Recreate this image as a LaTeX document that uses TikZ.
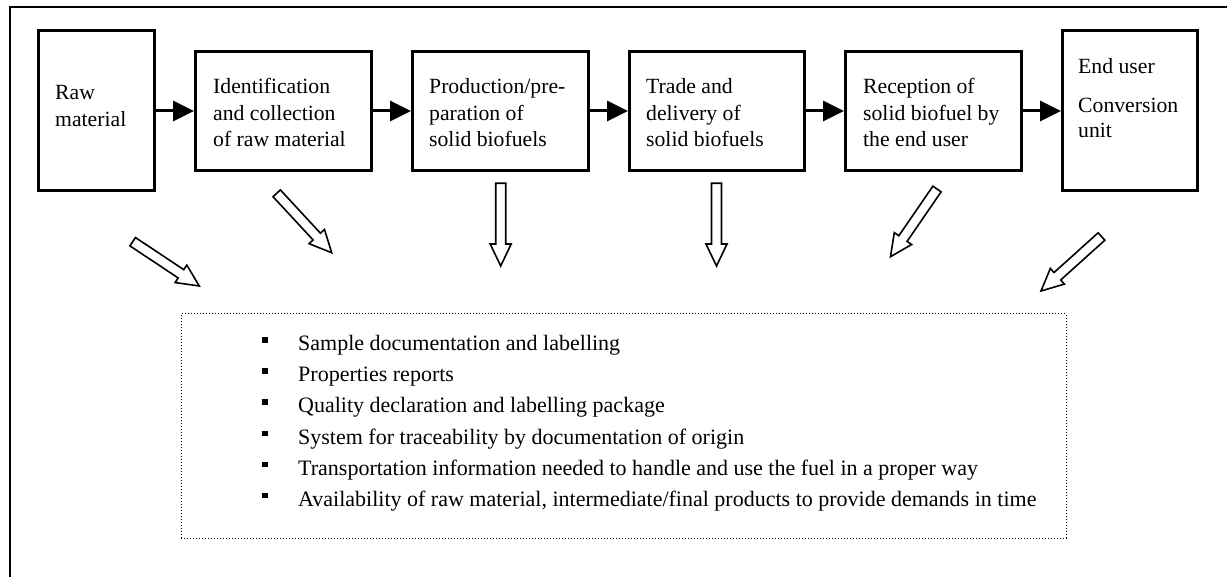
\documentclass[tikz,border=0pt]{standalone}
\usepackage{fontspec}
\setmainfont{Liberation Serif}
\usetikzlibrary{arrows.meta,calc}

\tikzset{
  stagebox/.style={draw, line width=3pt, inner sep=0pt},
  boxtext/.style={inner sep=0pt, align=left, anchor=base west,
    font=\fontsize{21.7}{26.5}\selectfont},
  listtext/.style={inner sep=0pt, anchor=base west,
    font=\fontsize{22}{26}\selectfont},
  flow/.style={line width=3pt, -{Triangle[length=21pt,width=20pt]}},
  hollow/.style={draw, fill=white, line width=1.6pt, line join=miter},
  frame/.style={line width=2.6pt},
  notes/.style={draw, dotted, line width=1pt, inner sep=0pt},
}

% hollow block arrow from tail coordinate #1 to tip coordinate #2
\newcommand\blockarrow[2]{%
  \coordinate (hb) at ($(#2)!22pt!(#1)$);
  \draw[hollow]
    ($(#1)!5pt!90:(#2)$) -- ($(hb)!5pt!-90:(#1)$) -- ($(hb)!10.5pt!-90:(#1)$)
    -- (#2) -- ($(hb)!10.5pt!90:(#1)$) -- ($(hb)!5pt!90:(#1)$)
    -- ($(#1)!5pt!-90:(#2)$) -- cycle;
}

\begin{document}
\begin{tikzpicture}[x=1pt,y=-1pt]
\useasboundingbox (0,0) rectangle (1227,577);

% outer frame
\draw[frame] (10,580) -- (10,7) -- (1230,7);

% process chain
\node[stagebox, minimum width=116pt, minimum height=160pt] (b1) at (96.5,110.5) {};
\node[stagebox, minimum width=176pt, minimum height=119pt] (b2) at (283.5,111) {};
\node[stagebox, minimum width=176pt, minimum height=119pt] (b3) at (500.5,111) {};
\node[stagebox, minimum width=175pt, minimum height=119pt] (b4) at (717,111) {};
\node[stagebox, minimum width=176pt, minimum height=119pt] (b5) at (933.5,111) {};
\node[stagebox, minimum width=135pt, minimum height=160pt] (b6) at (1130,110.5) {};

% the base anchor of these multi-line labels sits on their last line
\node[boxtext] (t1) at (55,127) {Raw\\[0.5pt]material};
\node[boxtext] (t2) at (213,147) {Identification\\and collection\\of raw material};
\node[boxtext] (t3) at (429,147) {Production/pre-\\paration of\\solid biofuels};
\node[boxtext] (t4) at (646,147) {Trade and\\delivery of\\solid biofuels};
\node[boxtext] (t5) at (863,147) {Reception of\\solid biofuel by\\the end user};
\node[boxtext] (t6) at (1078,138) {End user\\[12.5pt]Conversion\\[-1pt]unit};

\draw[flow] (b1.east |- b2.west) -- (b2.west);
\draw[flow] (b2.east) -- (b3.west);
\draw[flow] (b3.east) -- (b4.west);
\draw[flow] (b4.east) -- (b5.west);
\draw[flow] (b5.east) -- (b6.west |- b5.east);

% hollow arrows towards the documentation box
\coordinate (a1s) at (132.7,241.7); \coordinate (a1e) at (199.3,286);
\coordinate (a2s) at (276.7,193.3); \coordinate (a2e) at (331.7,252.7);
\coordinate (a3s) at (500.7,183.3); \coordinate (a3e) at (500.7,266);
\coordinate (a4s) at (716.5,183.3); \coordinate (a4e) at (716.5,266);
\coordinate (a5s) at (937,189);     \coordinate (a5e) at (890.5,256.7);
\coordinate (a6s) at (1101.5,236.5);\coordinate (a6e) at (1041,291);
\blockarrow{a1s}{a1e}
\blockarrow{a2s}{a2e}
\blockarrow{a3s}{a3e}
\blockarrow{a4s}{a4e}
\blockarrow{a5s}{a5e}
\blockarrow{a6s}{a6e}

% documentation box
\node[notes, minimum width=885pt, minimum height=224pt] (doc) at (623.5,426) {};

\foreach \y/\txt [count=\i] in {
  351/Sample documentation and labelling,
  382/Properties reports,
  413/Quality declaration and labelling package,
  444/System for traceability by documentation of origin,
  475/Transportation information needed to handle and use the fuel in a proper way,
  506/{Availability of raw material, intermediate/final products to provide demands in time}} {
  \fill (262,\y-13.5) rectangle (267.5,\y-8);
  \node[listtext] (item\i) at (298,\y) {\txt};
}
\end{tikzpicture}
\end{document}
